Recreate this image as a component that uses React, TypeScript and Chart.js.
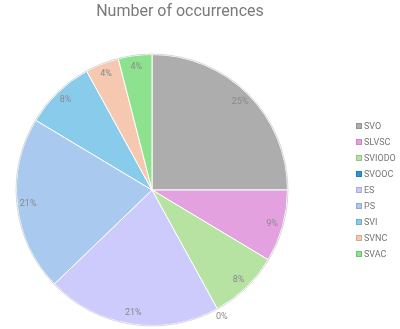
import React, { useEffect, useRef } from "react";
import { Chart, registerables } from "chart.js";

Chart.register(...registerables);

const TITLE = "Number of occurrences";
const categories = ["SVO", "SLVSC", "SVIODO", "SVOOC", "ES", "PS", "SVI", "SVNC", "SVAC"];
const values = [25, 8.6, 8.4, 0, 20.8, 20.8, 8.4, 4.0, 4.0];
const colors = ["#adadad", "#e3a1df", "#b6e3a1", "#2a94d6", "#cdcbfb", "#a9c9ee", "#89cbeb", "#f6c8b0", "#8ce28f"];

const FONT = "Roboto, 'Liberation Sans', sans-serif";

const overlayPlugin = {
  id: "overlay",
  afterDatasetsDraw(chart: any) {
    const ctx = chart.ctx;
    const meta = chart.getDatasetMeta(0);
    const data = chart.data.datasets[0].data as number[];
    const total = data.reduce((a, b) => a + b, 0);
    ctx.save();
    const first = meta.data[0];
    ctx.strokeStyle = "#d8d8d8";
    ctx.lineWidth = 1;
    ctx.beginPath();
    ctx.arc(first.x, first.y, first.outerRadius + 0.5, 0, Math.PI * 2);
    ctx.stroke();
    ctx.font = `9px ${FONT}`;
    ctx.fillStyle = "#8a8a8a";
    ctx.textAlign = "center";
    ctx.textBaseline = "middle";
    meta.data.forEach((arc: any, i: number) => {
      const { x, y, startAngle, endAngle, outerRadius } = arc.getProps(["x", "y", "startAngle", "endAngle", "outerRadius"], true);
      const mid = (startAngle + endAngle) / 2;
      const r = data[i] === 0 ? outerRadius * 1.07 : outerRadius * 0.92;
      const pct = Math.round((data[i] / total) * 100);
      ctx.fillText(pct + "%", x + Math.cos(mid) * r, y + Math.sin(mid) * r);
    });
    ctx.restore();
  },
  afterDraw(chart: any) {
    const ctx = chart.ctx;
    const meta = chart.getDatasetMeta(0);
    const cy = meta.data[0].y;
    ctx.save();
    ctx.font = `16px ${FONT}`;
    ctx.fillStyle = "#7a7a7a";
    ctx.textAlign = "center";
    ctx.textBaseline = "middle";
    ctx.fillText(TITLE, 180, 12);
    const step = 16;
    const n = categories.length;
    const y0 = cy - ((n - 1) / 2) * step;
    ctx.font = `9px ${FONT}`;
    ctx.textAlign = "left";
    categories.forEach((c, i) => {
      const yy = Math.round(y0 + i * step);
      ctx.fillStyle = colors[i];
      ctx.fillRect(356, yy - 3, 6, 6);
      ctx.strokeStyle = "rgba(0,0,0,0.15)";
      ctx.lineWidth = 1;
      ctx.strokeRect(356.5, yy - 2.5, 5, 5);
      ctx.fillStyle = "#777777";
      ctx.fillText(c, 364, yy + 0.5);
    });
    ctx.restore();
  },
};

export default function App() {
  const ref = useRef<HTMLCanvasElement>(null);
  useEffect(() => {
    document.body.style.margin = "0";
    const chart = new Chart(ref.current!, {
      type: "pie",
      data: {
        labels: categories,
        datasets: [
          {
            data: values,
            backgroundColor: colors,
            borderColor: "#ffffff",
            borderWidth: 1,
          },
        ],
      },
      options: {
        animation: false,
        responsive: false,
        layout: { padding: { top: 54, bottom: 3, left: 16, right: 112 } },
        plugins: {
          legend: { display: false },
          title: { display: false },
          tooltip: { enabled: false },
        },
      },
      plugins: [overlayPlugin],
    });
    return () => chart.destroy();
  }, []);
  return (
    <div style={{ width: 400, height: 329 }}>
      <canvas ref={ref} width={400} height={329} style={{ display: "block" }} />
    </div>
  );
}
